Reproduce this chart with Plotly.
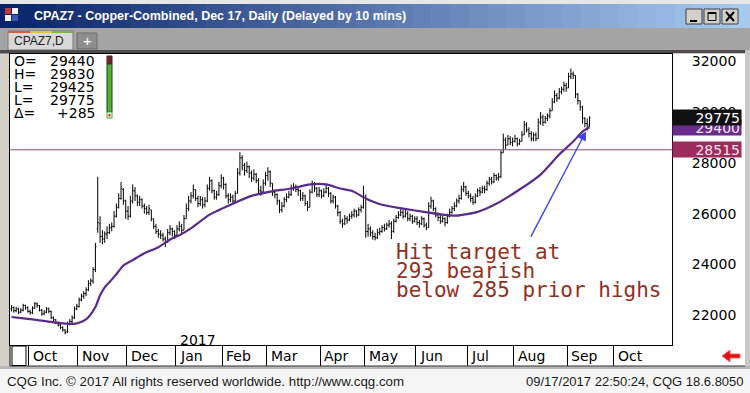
import plotly.graph_objects as go

# ---------------- data ----------------
month_names = ["Oct", "Nov", "Dec", "Jan", "Feb", "Mar", "Apr", "May", "Jun", "Jul", "Aug", "Sep", "Oct"]
month_first_bar = [8, 29, 50, 71, 91, 110, 133, 152, 174, 196, 216, 239, 259]
year_label = "2017"
year_first_bar = 71

bar_open = [
    22250, 22300, 22180, 22250, 22120, 22200, 22380, 22300, 22150, 22100,
    22280, 22450, 22380, 22200, 22050, 22120, 22250, 22150, 21900, 21820,
    21700, 21620, 21520, 21420, 21350, 21650, 21750, 21900, 22250, 22350,
    22600, 22750, 22850, 23000, 23250, 23350, 23800, 25400, 25600, 25100,
    25000, 25200, 25250, 25450, 25500, 25900, 26250, 26600, 26950, 26500,
    26100, 25900, 26500, 26900, 26700, 26450, 26550, 26300, 26200, 26050,
    26150, 25800, 25500, 25300, 25200, 25150, 25000, 24900, 25250, 25400,
    25300, 25150, 25400, 25500, 25350, 25800, 26200, 26500, 26700, 26950,
    26600, 26400, 26550, 26350, 26500, 27000, 27300, 26900, 26650, 26750,
    27100, 27400, 27150, 26700, 26550, 26650, 26500, 26800, 27600, 28200,
    27900, 27700, 27850, 27600, 27400, 27550, 27300, 26900, 26850, 27200,
    27500, 27650, 27200, 26850, 26750, 26500, 26150, 26300, 26550, 26650,
    26750, 27000, 27050, 26950, 26900, 26600, 26700, 26400, 26250, 26850,
    27150, 27000, 26750, 26900, 26700, 26850, 27000, 26800, 26500, 26650,
    26300, 26050, 25700, 25600, 25800, 25750, 25900, 25950, 26100, 25950,
    26150, 26250, 26700, 25300, 25400, 25250, 25100, 25050, 25250, 25300,
    25450, 25400, 25550, 25600, 25300, 25700, 25850, 25950, 26050, 25900,
    26000, 25800, 25900, 25700, 25800, 25650, 25600, 25800, 25550, 25450,
    26300, 26500, 26200, 25950, 25850, 25700, 25800, 25650, 25900, 26050,
    26200, 26300, 26500, 26600, 26950, 27050, 26800, 26700, 26600, 26450,
    26700, 26900, 26850, 27000, 26950, 27200, 27350, 27250, 27500, 27400,
    27450, 28400, 28900, 28700, 28950, 28800, 28850, 28950, 28750, 28850,
    29100, 29500, 29300, 29150, 28950, 29100, 28950, 29600, 29800, 29600,
    29750, 29850, 30050, 30400, 30650, 30550, 30800, 30900, 31050, 30950,
    31400, 31500, 31450, 30700, 30450, 30200, 29750, 29550, 29440,
]
bar_high = [
    22400, 22350, 22330, 22300, 22280, 22450, 22420, 22350, 22220, 22350,
    22520, 22500, 22400, 22250, 22200, 22320, 22300, 22180, 21950, 21850,
    21750, 21650, 21560, 21450, 21750, 21850, 22000, 22350, 22450, 22700,
    22850, 22950, 23100, 23380, 23450, 23900, 24850, 27450, 25900, 25350,
    25300, 25500, 25600, 25650, 26100, 26400, 26800, 27250, 27000, 26550,
    26300, 26700, 27150, 27050, 26750, 26700, 26600, 26400, 26300, 26350,
    26150, 25800, 25600, 25400, 25350, 25250, 25100, 25400, 25550, 25450,
    25350, 25550, 25700, 25600, 25950, 26400, 26700, 26850, 27150, 26950,
    26700, 26700, 26650, 26650, 27150, 27450, 27350, 26950, 26900, 27250,
    27550, 27450, 27200, 26800, 26800, 26750, 26900, 27800, 28420, 28300,
    28000, 28050, 27900, 27700, 27750, 27600, 27400, 27100, 27350, 27650,
    27830, 27700, 27200, 26950, 26800, 26550, 26450, 26650, 26800, 26900,
    27150, 27200, 27150, 27050, 26950, 26850, 26750, 26500, 26950, 27300,
    27250, 27050, 27050, 26950, 27000, 27150, 27050, 26850, 26750, 26700,
    26350, 26100, 25800, 25950, 25900, 26000, 26100, 26200, 26150, 26250,
    26350, 27100, 26750, 25600, 25500, 25350, 25250, 25400, 25450, 25550,
    25600, 25650, 25750, 25700, 25800, 25950, 26100, 26200, 26150, 26150,
    26100, 26000, 25950, 25900, 25900, 25750, 25900, 25850, 25650, 26450,
    26670, 26550, 26250, 26050, 25950, 25950, 25850, 26000, 26200, 26300,
    26450, 26600, 26750, 27100, 27250, 27100, 26900, 26800, 26700, 26800,
    27000, 27050, 27100, 27100, 27300, 27450, 27450, 27600, 27550, 27600,
    28500, 29150, 29000, 29100, 29050, 29000, 29100, 29000, 28950, 29250,
    29650, 29600, 29400, 29250, 29200, 29200, 29750, 30000, 29900, 29850,
    29950, 30150, 30550, 30850, 30750, 30950, 31000, 31200, 31150, 31550,
    31720, 31600, 31450, 30750, 30450, 30250, 29800, 29750, 29830,
]
bar_low = [
    22150, 22100, 22120, 22050, 22080, 22150, 22220, 22100, 22020, 22050,
    22250, 22300, 22150, 21980, 22000, 22080, 22080, 21850, 21750, 21650,
    21550, 21450, 21350, 21250, 21300, 21600, 21700, 21850, 22200, 22300,
    22550, 22650, 22750, 22950, 23150, 23250, 23700, 25250, 24850, 24800,
    24850, 25000, 25200, 25300, 25450, 25850, 26200, 26550, 26350, 25800,
    25750, 25850, 26400, 26500, 26300, 26300, 26200, 26000, 25950, 25950,
    25700, 25400, 25200, 25050, 25000, 24900, 24680, 24850, 25150, 25100,
    25000, 25100, 25300, 25200, 25350, 25800, 26100, 26400, 26600, 26500,
    26250, 26300, 26200, 26250, 26450, 26900, 26800, 26550, 26550, 26700,
    27000, 26950, 26600, 26400, 26450, 26400, 26450, 26800, 27500, 27700,
    27500, 27600, 27400, 27250, 27300, 27200, 26800, 26700, 26800, 27100,
    27300, 27050, 26700, 26600, 26350, 26020, 26050, 26250, 26450, 26600,
    26700, 26900, 26850, 26700, 26500, 26500, 26300, 26100, 26250, 26800,
    26850, 26650, 26650, 26600, 26650, 26800, 26650, 26400, 26400, 26200,
    25900, 25600, 25450, 25550, 25600, 25700, 25800, 25850, 25850, 25900,
    26050, 26200, 25050, 25100, 25100, 24980, 24950, 25000, 25150, 25250,
    25300, 25350, 25450, 25000, 25250, 25650, 25800, 25900, 25800, 25850,
    25700, 25700, 25600, 25650, 25550, 25450, 25550, 25450, 25350, 25450,
    26200, 26100, 25850, 25700, 25600, 25650, 25500, 25600, 25850, 26000,
    26100, 26250, 26400, 26550, 26850, 26700, 26600, 26450, 26350, 26400,
    26650, 26700, 26800, 26800, 26900, 27100, 27150, 27200, 27300, 27300,
    27400, 28400, 28550, 28700, 28700, 28650, 28800, 28650, 28700, 28850,
    29100, 29200, 29000, 28850, 28850, 28850, 28950, 29500, 29450, 29550,
    29650, 29750, 30050, 30350, 30400, 30500, 30700, 30800, 30800, 30950,
    31300, 31300, 30550, 30300, 30050, 29550, 29400, 29280, 29425,
]
bar_close = [
    22300, 22180, 22250, 22120, 22200, 22380, 22300, 22150, 22100, 22280,
    22450, 22380, 22200, 22050, 22120, 22250, 22150, 21900, 21820, 21700,
    21620, 21520, 21420, 21320, 21650, 21750, 21900, 22250, 22350, 22600,
    22750, 22850, 23000, 23250, 23350, 23800, 24700, 25650, 25100, 25000,
    25200, 25250, 25450, 25500, 25900, 26250, 26600, 27000, 26500, 26100,
    25900, 26500, 26900, 26700, 26450, 26550, 26300, 26200, 26050, 26200,
    25800, 25500, 25300, 25200, 25150, 25000, 24900, 25250, 25400, 25300,
    25150, 25400, 25500, 25350, 25800, 26200, 26500, 26700, 26950, 26600,
    26400, 26550, 26350, 26500, 27000, 27300, 26900, 26650, 26750, 27100,
    27400, 27150, 26700, 26550, 26650, 26500, 26800, 27600, 28200, 27900,
    27700, 27850, 27600, 27400, 27550, 27300, 26900, 26850, 27200, 27500,
    27650, 27200, 26850, 26750, 26500, 26150, 26300, 26550, 26650, 26750,
    27000, 27050, 26950, 26900, 26600, 26700, 26400, 26250, 26850, 27150,
    27000, 26750, 26900, 26700, 26850, 27000, 26800, 26500, 26650, 26300,
    26050, 25700, 25600, 25800, 25750, 25900, 25950, 26100, 25950, 26150,
    26250, 26800, 25300, 25400, 25250, 25100, 25050, 25250, 25300, 25450,
    25400, 25550, 25600, 25300, 25700, 25850, 25950, 26050, 25900, 26000,
    25800, 25900, 25700, 25800, 25650, 25600, 25800, 25550, 25450, 26300,
    26500, 26200, 25950, 25850, 25700, 25800, 25650, 25900, 26050, 26200,
    26300, 26500, 26600, 26950, 27050, 26800, 26700, 26600, 26450, 26700,
    26900, 26850, 27000, 26950, 27200, 27350, 27250, 27500, 27400, 27450,
    28400, 28900, 28700, 28950, 28800, 28850, 28950, 28750, 28850, 29100,
    29500, 29300, 29150, 28950, 29100, 28950, 29600, 29800, 29600, 29750,
    29850, 30050, 30400, 30650, 30550, 30800, 30900, 31050, 30950, 31400,
    31500, 31450, 30700, 30450, 30200, 29750, 29550, 29490, 29775,
]

# moving-average line, read at sample bars
ma_bar = [0, 6, 12, 18, 24, 28, 31, 33, 36, 38, 40, 42, 45, 48, 52, 57, 63, 69, 72, 77,
          85, 94, 102, 111, 120, 128, 135, 141, 146, 152, 159, 168, 177, 185, 191, 200,
          208, 218, 227, 235, 241, 245, 248]
ma_value = [21930, 21870, 21800, 21720, 21660, 21680, 21780, 21920, 22320, 22790, 23100,
            23300, 23620, 23960, 24170, 24440, 24680, 25030, 25150, 25420, 25960, 26350,
            26670, 26870, 26990, 27150, 27150, 26990, 26900, 26600, 26350, 26200, 26070,
            25960, 25920, 26070, 26390, 26950, 27540, 28330, 28840, 29230, 29400]

y_ticks = [22000, 24000, 26000, 28000, 30000, 32000]
ref_level = 28515

legend_labels = ["O=", "H=", "L=", "L=", "\u0394="]
note_lines = ["Hit target at", "293 bearish", "below 285 prior highs"]

# ---------------- geometry helpers ----------------
W, H = 750, 393


def X(px):
    return px / W


def Y(py):
    return 1 - py / H


x_range = [-0.644, 283.39]
y_range = [20828, 32307]

n = len(bar_close)
bar_idx = list(range(n))

fig = go.Figure()
fig.add_trace(go.Ohlc(
    x=bar_idx, open=bar_open, high=bar_high, low=bar_low, close=bar_close,
    increasing=dict(line=dict(color="black", width=1)),
    decreasing=dict(line=dict(color="black", width=1)),
    tickwidth=0.45, hoverinfo="skip", showlegend=False, xaxis="x", yaxis="y"))
fig.add_trace(go.Scatter(
    x=ma_bar, y=ma_value, mode="lines",
    line=dict(color="#5b2a8a", width=2.2, shape="spline", smoothing=0.6),
    hoverinfo="skip", showlegend=False, xaxis="x", yaxis="y"))
fig.add_trace(go.Scatter(x=[None], y=[None], xaxis="x2", yaxis="y2",
                         showlegend=False, hoverinfo="skip"))

shapes = []


def rect(x0, y0, x1, y1, fill, line=None, lw=1, layer="below"):
    shapes.append(dict(type="rect", xref="paper", yref="paper",
                       x0=X(x0), x1=X(x1), y0=Y(y1), y1=Y(y0),
                       fillcolor=fill, line=dict(color=line or fill, width=lw if line else 0),
                       layer=layer))


def seg(x0, y0, x1, y1, color, lw=1, layer="above"):
    shapes.append(dict(type="line", xref="paper", yref="paper",
                       x0=X(x0), x1=X(x1), y0=Y(y0), y1=Y(y1),
                       line=dict(color=color, width=lw), layer=layer))


# window chrome
rect(0, 0, 750, 5, "#e6e6e6")
c0, c1 = (10, 36, 106), (166, 202, 240)
strips = 40
for k in range(strips):
    t = k / (strips - 1)
    col = "rgb(%d,%d,%d)" % tuple(int(c0[j] + (c1[j] - c0[j]) * t) for j in range(3))
    rect(750 * k / strips, 4, 750 * (k + 1) / strips + 0.6, 28, col)
rect(0, 28, 750, 50, "#a4a4a4")
rect(8, 31, 73, 50, "#d8d8d8", "#7a7a7a")
rect(8, 31, 30, 33, "#e05a3a")
rect(30, 31, 52, 33, "#e8c040")
rect(52, 31, 73, 33, "#78b848")
rect(77, 33, 97, 49, "#8e8e8e", "#6a6a6a")
rect(0, 50, 750, 53.5, "#4e4a50")
# icon
rect(5, 8, 11, 14, "#c83838")
rect(12, 8, 18, 14, "#f4f4f4")
rect(5, 15, 11, 21, "#f4f4f4")
rect(12, 15, 18, 21, "#3858c0")
# window buttons
for bx in (686, 704, 722):
    rect(bx, 9, bx + 16, 24, "#d4d0c8", "#404040")
seg(690, 21, 697, 21, "black", 2)
rect(708, 12.5, 716, 20.5, "rgba(0,0,0,0)", "black", 1, "above")
seg(708, 13, 716, 13, "black", 2)
seg(726, 12, 734, 21, "black", 2)
seg(734, 12, 726, 21, "black", 2)

# right axis area, band and footer
rect(672, 53.5, 745, 366, "white")
rect(10, 345, 745, 366, "white")
rect(745, 50, 750, 368, "#c8c8c8")
rect(0, 366, 750, 369, "#b8b8b8")
rect(0, 369, 750, 393, "#f6f6f6")
seg(10, 366, 745, 366, "#303030", 1)
seg(10, 345, 10, 366, "black", 1)
rect(12, 346, 26, 365.5, "white", "black", 1, "above")

# red arrow icon in the band
arrow_path = "M {} {} L {} {} L {} {} L {} {} L {} {} L {} {} L {} {} Z".format(
    X(722), Y(356), X(730), Y(350), X(730), Y(354), X(740), Y(354),
    X(740), Y(358), X(730), Y(358), X(730), Y(362))
shapes.append(dict(type="path", xref="paper", yref="paper", path=arrow_path,
                   fillcolor="#e01010", line=dict(color="#f06070", width=1), layer="above"))

# OHLC legend colour bar
rect(107, 56, 112, 64, "#8b1a1a", "#303030", 1, "above")
rect(107, 64, 112, 112, "#44bb22", "#303030", 1, "above")
rect(107, 112, 112, 118, "#f4fff0", "#44aa22", 1, "above")
rect(108.5, 114, 110.5, 116.5, "#e02020", None, 0, "above")

# reference level line
shapes.append(dict(type="line", xref="x domain", yref="y", x0=0, x1=1,
                   y0=ref_level, y1=ref_level,
                   line=dict(color="#7f4f73", width=1), layer="above"))

annotations = []


def txt(px, py, text, size=14, color="black", family="DejaVu Sans", xanchor="left",
        weight="normal", **kw):
    annotations.append(dict(xref="paper", yref="paper", x=X(px), y=Y(py), text=text,
                            showarrow=False, xanchor=xanchor, yanchor="middle",
                            font=dict(family=family, size=size, color=color, weight=weight),
                            **kw))


txt(32, 15.5, "CPAZ7 - Copper-Combined, Dec 17, Daily (Delayed by 10 mins)", 12.5, "white",
    "Liberation Sans", weight="bold")
txt(12, 41.5, "CPAZ7,D", 12, "#222222", "Liberation Sans")
txt(87, 41, "+", 15, "white", "Liberation Sans", xanchor="center")

# OHLC legend text
last_o, last_h, last_l, last_c = bar_open[-1], bar_high[-1], bar_low[-1], bar_close[-1]
delta = last_c - bar_close[-2]
legend_values = [str(last_o), str(last_h), str(last_l), str(last_c), "%+d" % delta]
for k, (lab, val) in enumerate(zip(legend_labels, legend_values)):
    yy = 61 + k * 13.1
    txt(12, yy, lab, 14)
    txt(97, yy, val, 14, xanchor="right")

# month labels in the band
for name, b in zip(month_names, month_first_bar):
    annotations.append(dict(xref="x2", yref="paper", x=b - 0.5, y=Y(356), text=name,
                            showarrow=False, xanchor="left", yanchor="middle", xshift=2,
                            font=dict(family="DejaVu Sans", size=14, color="black")))
annotations.append(dict(xref="x", yref="paper", x=year_first_bar - 0.5, y=Y(339.5),
                        text=year_label, showarrow=False, xanchor="left", yanchor="middle",
                        xshift=2, font=dict(family="DejaVu Sans", size=14, color="black")))


# price boxes on the right axis
def price_box(value, bg, fg):
    annotations.append(dict(xref="paper", yref="y", x=X(742), y=value, text=str(value),
                            showarrow=False, xanchor="right", yanchor="middle",
                            width=66, height=13, align="right", borderpad=1,
                            bgcolor=bg, font=dict(family="DejaVu Sans", size=14, color=fg)))


price_box(ma_value[-1], "#6a2c8c", "#f0e8f8")
price_box(ref_level, "#9c2c5c", "#fbe0ec")
price_box(last_c, "#111111", "white")

# text note and arrow
for k, line in enumerate(note_lines):
    txt(394, 252 + k * 19.2, line, 21, "#93301f", "DejaVu Sans Mono")
annotations.append(dict(xref="x", yref="y", x=246.5, y=29240, axref="x", ayref="y",
                        ax=222.5, ay=25035, text="", showarrow=True, arrowhead=2,
                        arrowsize=1.3, arrowwidth=1.4, arrowcolor="#3c46e6", standoff=0))

# footer
txt(5, 381, "CQG Inc. \u00a9 2017 All rights reserved worldwide. http://www.cqg.com", 13.3,
    "#1a1a1a", "Liberation Sans")
txt(746, 381, "09/17/2017 22:50:24, CQG 18.6.8050", 13, "#1a1a1a", "Liberation Sans",
    xanchor="right")

fig.update_layout(
    width=W, height=H, margin=dict(l=0, r=0, t=0, b=0),
    paper_bgcolor="#d4d0c8", plot_bgcolor="white", showlegend=False,
    xaxis=dict(domain=[X(10), X(672)], range=x_range, anchor="y",
               showticklabels=False, ticks="", showgrid=False, zeroline=False,
               showline=True, mirror=True, linecolor="black", linewidth=1,
               rangeslider=dict(visible=False), fixedrange=True),
    yaxis=dict(domain=[Y(345), Y(53.5)], range=y_range, anchor="x", side="right",
               tickvals=y_ticks, ticktext=[str(v) for v in y_ticks], ticks="",
               ticklabelstandoff=16,
               tickfont=dict(family="DejaVu Sans", size=14, color="black"),
               showgrid=False, zeroline=False, showline=True, mirror=True,
               linecolor="black", linewidth=1, fixedrange=True),
    xaxis2=dict(domain=[X(10), X(672)], anchor="y2", matches="x",
                tickvals=[b - 0.5 for b in month_first_bar], showticklabels=False,
                ticks="", showgrid=True, gridcolor="black", gridwidth=1,
                zeroline=False, showline=False),
    yaxis2=dict(domain=[Y(366), Y(345)], range=[0, 1], anchor="x2",
                showticklabels=False, ticks="", showgrid=False, zeroline=False,
                showline=False, fixedrange=True),
    shapes=shapes, annotations=annotations,
)

fig.write_html("out.html", config={"displayModeBar": False},
               post_script="document.body.style.margin='0';document.body.style.overflow='hidden';")
